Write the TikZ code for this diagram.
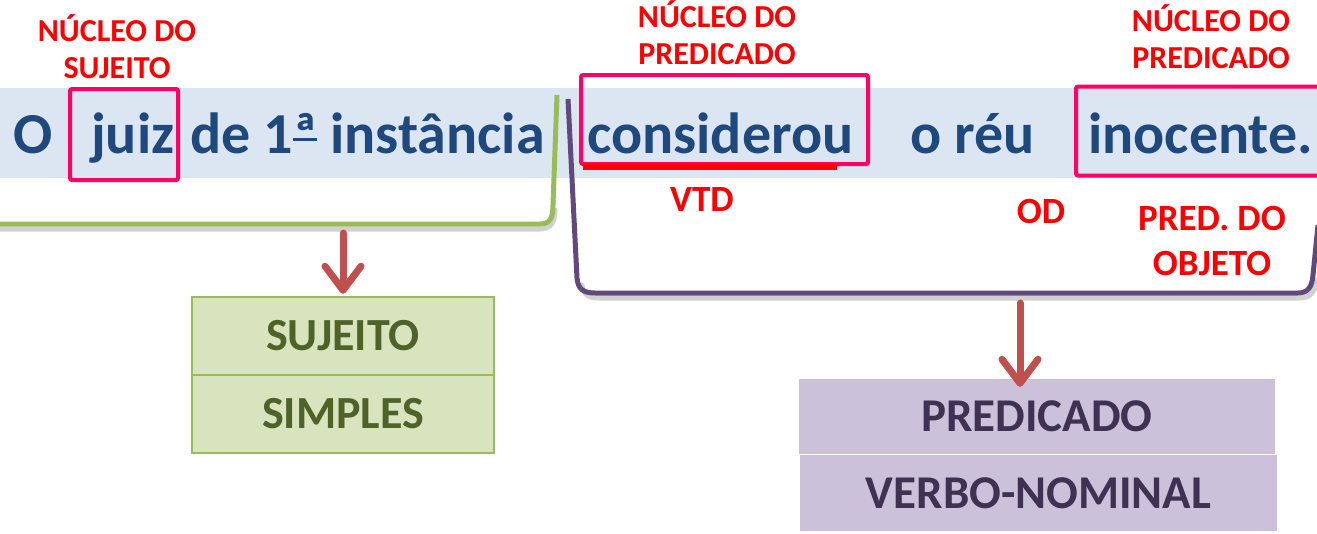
\documentclass[tikz,border=0pt]{standalone}
\usepackage{fontspec}
\setmainfont{Carlito}
\usetikzlibrary{arrows.meta}
\definecolor{bandblue}{HTML}{DCE6F2}
\definecolor{txtblue}{HTML}{1F497D}
\definecolor{pinkbox}{HTML}{FF0066}
\definecolor{redlbl}{HTML}{FF0000}
\definecolor{brgreen}{HTML}{9BBB59}
\definecolor{brpurple}{HTML}{604A7B}
\definecolor{arrred}{HTML}{C0504D}
\definecolor{sjfill}{HTML}{D7E4BD}
\definecolor{sjtext}{HTML}{4F6228}
\definecolor{pvfill}{HTML}{CCC1DA}
\definecolor{pvtext}{HTML}{3F3151}
\newcommand{\ordA}{{\setbox0\hbox{ª}\rlap{\rule[0.2em]{\wd0}{0.06em}}\box0}}
\begin{document}
\begin{tikzpicture}[x=1pt,y=-1pt,
  mainword/.style={anchor=base west, inner sep=0pt, text=txtblue, font=\fontsize{58}{70}\selectfont\bfseries},
  lbl/.style={inner sep=0pt, text=redlbl, align=center, font=\fontsize{32}{37}\selectfont\bfseries},
  lblbig/.style={inner sep=0pt, text=redlbl, align=center, font=\fontsize{37}{45}\selectfont\bfseries},
  pinkframe/.style={draw=pinkbox, line width=4pt, rounded corners=2pt, rectangle, inner sep=0pt},
  sjbox/.style={draw=brgreen, fill=sjfill, line width=2.5pt, minimum width=302pt, minimum height=78pt, inner sep=0pt, text=sjtext, font=\fontsize{46}{55}\selectfont\bfseries},
  pvbox/.style={fill=pvfill, minimum width=476pt, minimum height=75pt, inner sep=0pt, text=pvtext, font=\fontsize{47}{56}\selectfont\bfseries},
  arr/.style={draw=arrred, line width=7pt, line cap=round, -{Straight Barb[length=24pt, width=36pt, round]}},
  shadowline/.style={draw=black!18, line width=5pt, line cap=round}
]
\useasboundingbox (0,0) rectangle (1317,533);
% band
\fill[bandblue] (0,88) rectangle (1317,178);

% brackets (shadow first)
\draw[shadowline] (0,229) -- (540,229) .. controls (551,229) and (555,222) .. (555,210);
\draw[shadowline] (582,285) .. controls (583,294) and (588,298) .. (598,298) -- (1300,298) .. controls (1310,298) and (1315,292) .. (1317,280);
\draw[draw=brgreen, line width=5pt] (0,224) -- (540,224) .. controls (550,224) and (553,218) .. (553,205) -- (557,95);
\draw[draw=brpurple, line width=5pt] (568,99) -- (577,278) .. controls (578,289) and (583,293) .. (595,293) -- (1298,293) .. controls (1308,293) and (1312,287) .. (1313,275) -- (1318,225);

% main sentence
\node[mainword] (wO) at (13,153) {O};
\node[mainword] (wjuiz) at (91,153) {juiz};
\node[mainword] (wde) at (190,153) {de 1\ordA{} instância};
\node[mainword] (wcons) at (587,153) {considerou};
\node[mainword] (wreu) at (910,153) {o réu};
\node[mainword] (winoc) at (1088,153) {inocente.};

% pink frames
\node[pinkframe, minimum width=108pt, minimum height=91pt] (fjuiz) at (124,134.5) {};
\node[pinkframe, minimum width=287pt, minimum height=89pt] (fcons) at (724.5,119.5) {};
\node[pinkframe, minimum width=250pt, minimum height=89pt] (finoc) at (1201,131) {};
% underline
\draw[draw=redlbl, line width=6pt] (583,167) -- (837,167);

% red labels
\node[lbl] (lnucsuj) at (117,47) {NÚCLEO DO\\SUJEITO};
\node[lbl] (lnucpred1) at (717,33) {NÚCLEO DO\\PREDICADO};
\node[lbl] (lnucpred2) at (1211,37) {NÚCLEO DO\\PREDICADO};
\node[lblbig] (lvtd) at (702,199) {VTD};
\node[lblbig] (lod) at (1041,211) {OD};
\node[lblbig] (lpredobj) at (1212,241) {PRED. DO\\OBJETO};

% result boxes
\node[sjbox] (suj1) at (343,336) {SUJEITO};
\node[sjbox] (suj2) at (343,414) {SIMPLES};
\node[pvbox] (pv1) at (1037,416.5) {PREDICADO};
\node[pvbox, minimum width=477pt, minimum height=76pt] (pv2) at (1038.5,493) {VERBO-NOMINAL};

% arrows
\coordinate (gsrc) at (343,233);
\coordinate (psrc) at (1020,303);
\draw[arr] (gsrc) -- ([yshift=2pt]gsrc |- suj1.north);
\draw[arr] (psrc) -- ([yshift=-8pt]psrc |- pv1.north);
\end{tikzpicture}
\end{document}
